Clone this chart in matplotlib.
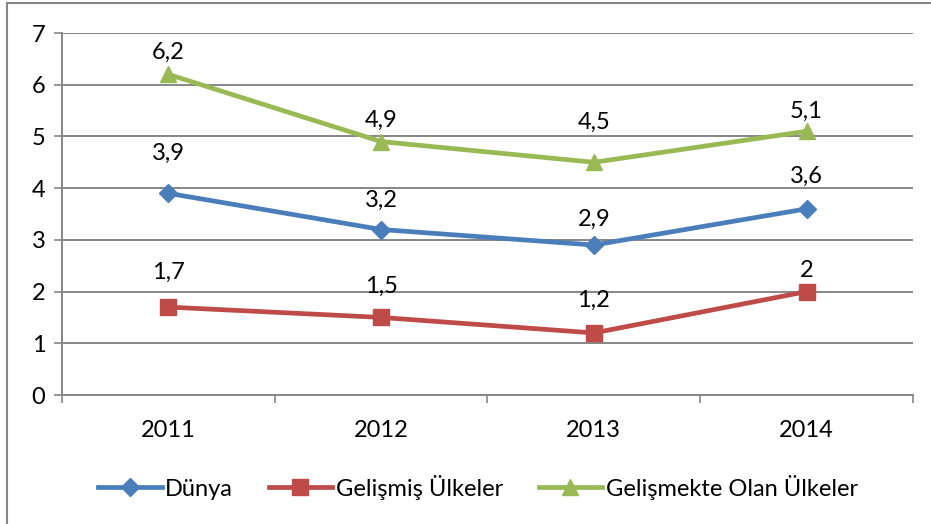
import matplotlib.pyplot as plt
from matplotlib.lines import Line2D
import numpy as np

plt.rcParams['font.family'] = ['Lato', 'DejaVu Sans']

years = ['2011', '2012', '2013', '2014']
dunya = [3.9, 3.2, 2.9, 3.6]
gelismis = [1.7, 1.5, 1.2, 2.0]
gelismekte = [6.2, 4.9, 4.5, 5.1]
labels_dunya = ['3,9', '3,2', '2,9', '3,6']
labels_gelismis = ['1,7', '1,5', '1,2', '2']
labels_gelismekte = ['6,2', '4,9', '4,5', '5,1']

# label offsets above the points (pixels), as placed in the original
off_dunya = [40, 29, 26, 32]
off_gelismis = [35, 31, 33, 21]
off_gelismekte = [22, 21, 40, 20]

fig = plt.figure(figsize=(9.31, 5.24), dpi=100)
ax = fig.add_axes([62/931, 1-395/524, (913-62)/931, (395-33)/524])

x = np.arange(len(years))
grid_c = '#868686'
fs = 17

series = [
    (dunya, labels_dunya, off_dunya, '#4A7EBB', 'D', 9, 'Dünya'),
    (gelismis, labels_gelismis, off_gelismis, '#BE4B48', 's', 11, 'Gelişmiş Ülkeler'),
    (gelismekte, labels_gelismekte, off_gelismekte, '#98B954', '^', 12, 'Gelişmekte Olan Ülkeler'),
]
for vals, labs, offs, col, mk, ms, name in series:
    ax.plot(x, vals, color=col, lw=3.4, marker=mk, ms=ms, label=name, zorder=3)
    for xi, v, lab, o in zip(x, vals, labs, offs):
        ax.annotate(lab, (xi, v), xytext=(0, o), textcoords='offset pixels',
                    ha='center', va='center', fontsize=fs, color='black')

ax.set_xlim(-0.5, 3.5)
ax.set_ylim(0, 7)
ax.set_yticks(range(8))
ax.set_xticks(x)
ax.set_xticklabels(years, fontsize=fs)
ax.set_xticks(np.arange(-0.5, 4, 1), minor=True)
ax.tick_params(axis='x', which='major', length=0, pad=18)
ax.tick_params(axis='x', which='minor', length=6, width=1.2, color=grid_c, direction='out')
ax.tick_params(axis='y', length=6, width=1.2, color=grid_c, labelsize=fs, pad=6)
ax.yaxis.grid(True, color=grid_c, lw=1.4)
ax.set_axisbelow(True)
for s in ['top', 'right']:
    ax.spines[s].set_visible(False)
for s in ['left', 'bottom']:
    ax.spines[s].set_color(grid_c)
    ax.spines[s].set_linewidth(1.4)

ax.legend(loc='center', bbox_to_anchor=(478/931, 1-487/524), bbox_transform=fig.transFigure,
          ncol=3, frameon=False, fontsize=fs, handlelength=2.7, handletextpad=0.15,
          columnspacing=1.5)

# outer chart border (top and left visible)
fig.add_artist(Line2D([7/931, 7/931], [0, 1-3/524], transform=fig.transFigure, color=grid_c, lw=1.5))
fig.add_artist(Line2D([7/931, 1], [1-3/524, 1-3/524], transform=fig.transFigure, color=grid_c, lw=1.5))

fig.savefig('out.png', dpi=100)
